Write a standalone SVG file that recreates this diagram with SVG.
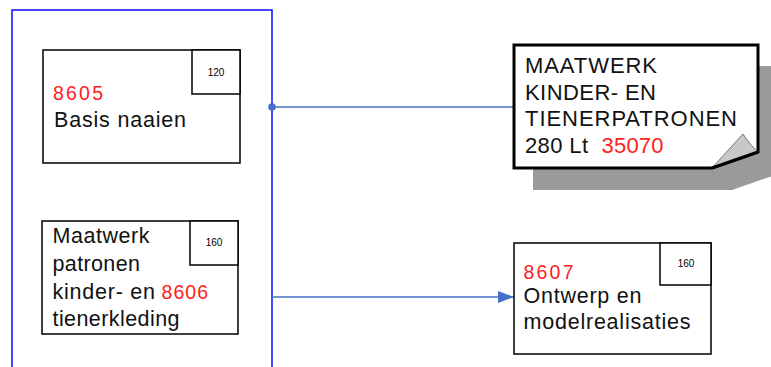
<svg xmlns="http://www.w3.org/2000/svg" width="771" height="367" viewBox="0 0 771 367">
<defs>
<style>
.box{fill:#fff;stroke:#000;stroke-width:1.5}
.t{font-family:"Liberation Sans",Arial,sans-serif;font-size:21.5px;fill:#111}
.r{font-family:"Liberation Sans",Arial,sans-serif;font-size:19.5px;fill:#ff2020}
.s{font-family:"Liberation Sans",Arial,sans-serif;font-size:10px;fill:#000;text-anchor:middle}
.n{font-family:"Liberation Sans",Arial,sans-serif;font-size:22px;fill:#111}
.c{fill:none;stroke:#4472c4;stroke-width:1.3}
</style>
<marker id="ah" markerWidth="16" markerHeight="12" refX="16" refY="6" orient="auto" markerUnits="userSpaceOnUse">
<path d="M0,0 L16,6 L0,12 Z" fill="#4472c4"/>
</marker>
</defs>
<rect width="771" height="367" fill="#fff"/>
<g id="group">
<rect x="12" y="10" width="260" height="380" fill="none" stroke="#1a1aff" stroke-width="1.6"/>
</g>
<g id="connectors">
<path class="c" d="M272,107 L515,107"/>
<circle cx="272" cy="107" r="3.8" fill="#4472c4"/>
<path class="c" d="M272,297 L514,297" marker-end="url(#ah)"/>
</g>
<g id="n8605">
<rect class="box" x="43" y="50" width="197" height="113"/>
<rect class="box" x="192" y="50" width="48" height="44"/>
<text class="s" x="216" y="76">120</text>
<text class="r" x="53" y="100" textLength="50" lengthAdjust="spacing">8605</text>
<text class="t" x="54" y="127" textLength="132" lengthAdjust="spacing">Basis naaien</text>
</g>
<g id="n8606">
<rect class="box" x="42" y="221" width="196" height="113"/>
<rect class="box" x="190" y="221" width="48" height="44"/>
<text class="s" x="214" y="246">160</text>
<text class="t" x="52.5" y="243" textLength="97" lengthAdjust="spacing">Maatwerk</text>
<text class="t" x="52.5" y="271" textLength="87.5" lengthAdjust="spacing">patronen</text>
<text class="t" x="52.5" y="299" textLength="102.5" lengthAdjust="spacing">kinder- en</text>
<text class="r" x="161.5" y="299" textLength="46.5" lengthAdjust="spacing">8606</text>
<text class="t" x="52.5" y="326" textLength="127" lengthAdjust="spacing">tienerkleding</text>
</g>
<g id="n35070">
<path d="M533,66 L778,66 L778,174 L732,190 L533,190 Z" fill="#9a9a9a"/>
<path d="M514,45 L758,45 L758,152 L712,168 L514,168 Z" fill="#fff" stroke="#000" stroke-width="3"/>
<path d="M712,168 Q728,150 743,134 Q750,145 758,152 Z" fill="#c8c8c8" stroke="#777" stroke-width="1"/>
<path d="M712,168 L758,152" stroke="#000" stroke-width="3"/>
<text class="n" x="525" y="73" textLength="132" lengthAdjust="spacing">MAATWERK</text>
<text class="n" x="525" y="99.5" textLength="131" lengthAdjust="spacing">KINDER- EN</text>
<text class="n" x="525" y="126" textLength="212" lengthAdjust="spacing">TIENERPATRONEN</text>
<text class="n" x="525" y="153" textLength="63" lengthAdjust="spacing">280 Lt</text>
<text class="n" x="601.5" y="153" textLength="62" lengthAdjust="spacing" style="fill:#ff2020">35070</text>
</g>
<g id="n8607">
<rect class="box" x="514" y="243" width="197" height="111"/>
<rect class="box" x="660" y="243" width="51" height="42"/>
<text class="s" x="686" y="267">160</text>
<text class="r" x="523.5" y="279" textLength="50" lengthAdjust="spacing">8607</text>
<text class="t" x="523.5" y="303" textLength="118" lengthAdjust="spacing">Ontwerp en</text>
<text class="t" x="523.5" y="329" textLength="167" lengthAdjust="spacing">modelrealisaties</text>
</g>
</svg>
